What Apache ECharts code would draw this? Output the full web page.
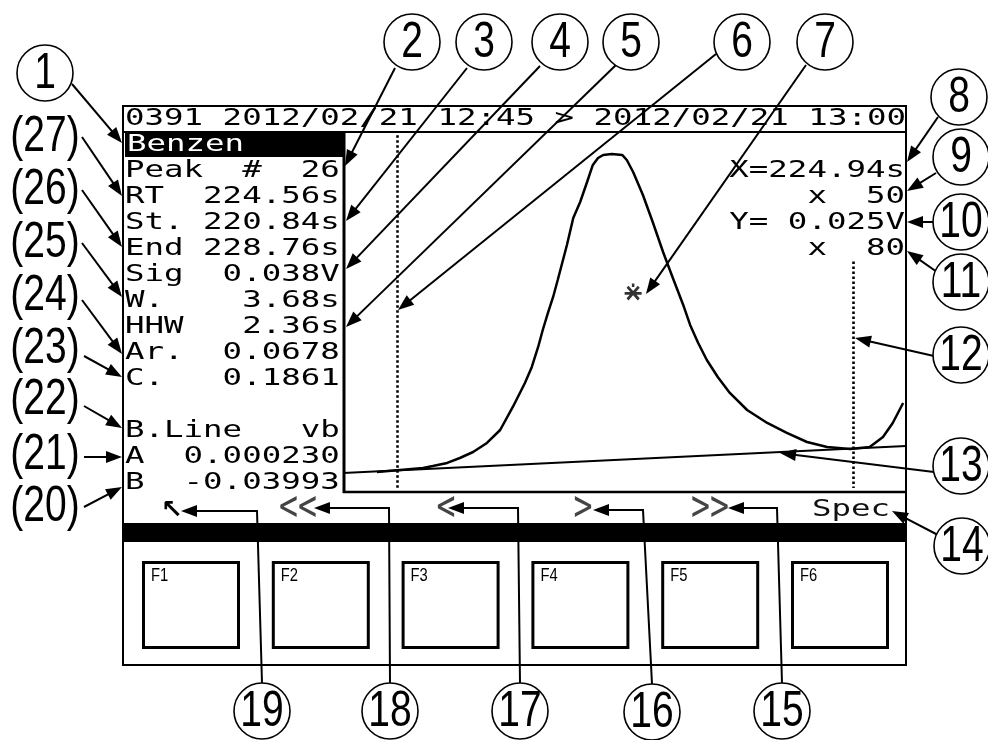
<!DOCTYPE html>
<html>
<head>
<meta charset="utf-8">
<script src="https://cdn.jsdelivr.net/npm/echarts@6/dist/echarts.min.js"></script>
<style>
  html, body { margin: 0; padding: 0; background: #fff; }
  #chart { width: 988px; height: 740px; }
</style>
</head>
<body>
<div id="chart"></div>
<script>
// ---- Chromatogram data: peak trace (time in s, signal in V) ----
const peakTimes = [220.49, 220.89, 221.29, 221.46, 221.71, 221.93, 222.16, 222.40, 222.63, 222.85,
  223.06, 223.18, 223.29, 223.37, 223.46, 223.55, 223.63, 223.79, 223.90, 224.02,
  224.14, 224.24, 224.33, 224.42, 224.57, 224.75, 224.83, 224.94, 225.11, 225.28,
  225.46, 225.63, 225.81, 225.93, 226.07, 226.22, 226.41, 226.62, 226.92, 227.27,
  227.61, 227.96, 228.31, 228.71, 229.05, 229.28, 229.45, 229.63];
const peakVolts = [0.0025, 0.00275, 0.0030, 0.00325, 0.00363, 0.00425, 0.0050, 0.00613, 0.00775, 0.01063,
  0.01363, 0.01563, 0.01813, 0.02025, 0.02238, 0.02438, 0.0265, 0.03088, 0.03425, 0.03625,
  0.03875, 0.04088, 0.04175, 0.04213, 0.04225, 0.04213, 0.0415, 0.0400, 0.03713, 0.03375,
  0.0300, 0.02675, 0.02338, 0.02088, 0.01863, 0.0165, 0.01438, 0.01238, 0.01025, 0.00863,
  0.00738, 0.00625, 0.00563, 0.00538, 0.00563, 0.00688, 0.00863, 0.01113];

// Baseline end points
const baseTimes = [219.9, 229.68];
const baseVolts = [0.00238, 0.00575];

// Peak report values
const compoundName = 'Benzen';
const peakNumber = 26;
const retentionTime = 224.56;
const peakStart = 220.84;
const peakEnd = 228.76;
const peakSignal = 0.038;
const peakWidth = 3.68;
const halfHeightWidth = 2.36;
const peakArea = 0.0678;
const concentration = 0.1861;
const baselineType = 'vb';
const baselineA = 0.000230;
const baselineB = -0.03993;

// Cursor read-out
const cursorX = 224.94;
const cursorY = 0.025;
const zoomX = 50;
const zoomY = 80;

// Header and key labels
const headerText = '0391 2012/02/21 12:45 > 2012/02/21 13:00';
const softKeyLabels = ['\u2196', '<<', '<', '>', '>>', 'Spec'];
const buttonLabels = ['F1', 'F2', 'F3', 'F4', 'F5', 'F6'];
const circledNumbers = [1, 2, 3, 4, 5, 6, 7, 8, 9, 10, 11, 12, 13, 14, 15, 16, 17, 18, 19];
const bracketNumbers = [27, 26, 25, 24, 23, 22, 21, 20];

// Axis extents of the trace window
const timeRange = [219.9, 229.68];
const voltRange = [0, 0.045];

// ---- Layout ----
const PIX_FONT = "23px 'DejaVu Sans Mono', 'Liberation Mono', monospace";
const PIX_SX = 1.41;
const NUM_FONT = "50px 'Liberation Sans', Arial, sans-serif";
const NUM_SX = 0.78;

const plot = { left: 343, top: 132, width: 563, height: 360 };

// circle centres for the numbered callouts (same order as circledNumbers)
const circlePos = [
  [45, 73], [412, 42], [484, 42], [560, 42], [631, 42], [742, 42], [825, 42],
  [959, 97], [961, 157], [961, 222], [961, 282], [961, 355], [961, 466], [962, 546],
  [782, 711], [652, 712], [520, 711], [390, 711], [262, 711]
];
const bracketY = [137, 190, 243, 296, 349, 400, 455, 507];

// straight callout arrows: [fromX, fromY, tipX, tipY]
const straightArrows = [
  [72, 84, 122, 143],
  [82, 137, 122, 196], [82, 190, 122, 247], [82, 243, 122, 297], [82, 300, 122, 354],
  [84, 356, 122, 377], [84, 406, 122, 428], [84, 457, 122, 457], [84, 507, 122, 487],
  [395, 68, 345, 166], [467, 68, 346, 221], [540, 66, 346, 269], [617, 64, 346, 327],
  [716, 54, 398, 310], [806, 65, 646, 294],
  [938, 117, 907, 162], [936, 173, 907, 191], [934, 222, 907, 222], [937, 272, 907, 251],
  [934, 356, 855, 338], [934, 472, 780, 453], [938, 535, 892, 511]
];
// elbow arrows from the bottom circles: [bottomX, bottomY, cornerX, cornerY, tipX]
const elbowArrows = [
  [262, 683, 257, 511, 181], [390, 683, 389, 508, 314], [520, 683, 518, 508, 448],
  [652, 684, 643, 510, 593], [782, 683, 777, 508, 728]
];

function txt(x, y, s, o) {
  o = o || {};
  const align = o.align || 'left';
  return {
    type: 'text', x: x, y: y, scaleX: o.sx || 1, z: o.z || 10, silent: true,
    style: {
      text: s, x: 0, y: 0, font: o.font || PIX_FONT, fill: o.fill || '#000',
      align: align, textAlign: align, verticalAlign: 'middle', textVerticalAlign: 'middle'
    }
  };
}
function line(x1, y1, x2, y2, w, z) {
  return { type: 'line', z: z || 5, silent: true, shape: { x1, y1, x2, y2 },
    style: { stroke: '#000', lineWidth: w || 2 } };
}
function arrowHead(fx, fy, tx, ty) {
  const len = 16, hw = 6;
  const dx = tx - fx, dy = ty - fy, d = Math.hypot(dx, dy);
  const ux = dx / d, uy = dy / d;
  const bx = tx - ux * len, by = ty - uy * len;
  return {
    type: 'polygon', z: 21, silent: true,
    shape: { points: [[tx, ty], [bx - uy * hw, by + ux * hw], [bx + uy * hw, by - ux * hw]] },
    style: { fill: '#000' }
  };
}

const g = [];

// instrument screen frame
g.push({ type: 'rect', z: 5, silent: true, shape: { x: 123, y: 106, width: 783, height: 559 },
  style: { fill: 'none', stroke: '#000', lineWidth: 2 } });
g.push(line(123, 132, 906, 132, 2));
g.push(line(344, 132, 344, 493, 3));
g.push(line(343, 492, 906, 492, 2.5));
g.push({ type: 'rect', z: 5, silent: true, shape: { x: 123, y: 523, width: 783, height: 19 },
  style: { fill: '#000' } });

// header
g.push(txt(125, 119, headerText, { sx: PIX_SX }));

// peak report panel
g.push({ type: 'rect', z: 6, silent: true, shape: { x: 125, y: 133, width: 218, height: 24 },
  style: { fill: '#000' } });
g.push(txt(127, 145, compoundName, { sx: PIX_SX, fill: '#fff', z: 11 }));

function row(label, value) {
  return label + ' '.repeat(Math.max(1, 11 - label.length - value.length)) + value;
}
const reportRows = [
  row('Peak  #', String(peakNumber)),
  row('RT', retentionTime.toFixed(2) + 's'),
  row('St.', peakStart.toFixed(2) + 's'),
  row('End', peakEnd.toFixed(2) + 's'),
  row('Sig', peakSignal.toFixed(3) + 'V'),
  row('W.', peakWidth.toFixed(2) + 's'),
  row('HHW', halfHeightWidth.toFixed(2) + 's'),
  row('Ar.', peakArea.toFixed(4)),
  row('C.', concentration.toFixed(4)),
  '',
  row('B.Line', baselineType),
  row('A', baselineA.toFixed(6)),
  row('B', baselineB.toFixed(5))
];
reportRows.forEach(function (s, i) {
  if (s) g.push(txt(125, 171 + i * 26, s, { sx: PIX_SX }));
});

// cursor read-out
const cursorRows = [
  'X=' + cursorX.toFixed(2) + 's',
  'x  ' + zoomX,
  'Y= ' + cursorY.toFixed(3) + 'V',
  'x  ' + zoomY
];
cursorRows.forEach(function (s, i) {
  g.push(txt(905, 171 + i * 26, s, { sx: PIX_SX, align: 'right' }));
});

// soft key captions
const keyPos = [[172, 'center'], [298, 'center'], [446, 'center'], [583, 'center'], [710, 'center'], [812, 'left']];
softKeyLabels.forEach(function (s, i) {
  const p = keyPos[i];
  if (i === 0) {
    g.push(txt(p[0], 511, s, { font: "bold 26px 'DejaVu Sans', sans-serif", align: 'center', fill: '#000' }));
  } else if (i === 5) {
    g.push(txt(p[0], 510, s, { sx: PIX_SX, fill: '#111' }));
  } else {
    g.push(txt(p[0], 509, s, { font: "42px 'DejaVu Sans Mono', monospace", sx: 0.75, align: 'center', fill: '#444' }));
  }
});

// function keys
buttonLabels.forEach(function (s, i) {
  const bx = 142 + i * 129.8;
  g.push({ type: 'rect', z: 5, silent: true, shape: { x: bx + 1.5, y: 562.5, width: 95, height: 85 },
    style: { fill: 'none', stroke: '#000', lineWidth: 3 } });
  g.push(txt(bx + 9, 576, s, { font: "18px 'Liberation Sans', Arial, sans-serif", sx: 0.82 }));
});

// callout arrows
straightArrows.forEach(function (a) {
  const dx = a[2] - a[0], dy = a[3] - a[1], d = Math.hypot(dx, dy);
  const ex = a[2] - dx / d * 12, ey = a[3] - dy / d * 12;
  g.push(line(a[0], a[1], ex, ey, 2, 20));
  g.push(arrowHead(a[0], a[1], a[2], a[3]));
});
elbowArrows.forEach(function (a) {
  g.push({ type: 'polyline', z: 20, silent: true,
    shape: { points: [[a[0], a[1]], [a[2], a[3]], [a[4] + 12, a[3]]] },
    style: { stroke: '#000', lineWidth: 2, fill: 'none' } });
  g.push(arrowHead(a[2], a[3], a[4], a[3]));
});

// numbered circles
circledNumbers.forEach(function (n, i) {
  const c = circlePos[i];
  g.push({ type: 'circle', z: 22, silent: true, shape: { cx: c[0], cy: c[1], r: 28 },
    style: { fill: '#fff', stroke: '#000', lineWidth: 1.6 } });
  g.push(txt(c[0], c[1] + 1, String(n), { font: NUM_FONT, sx: NUM_SX, align: 'center', z: 23 }));
});
bracketNumbers.forEach(function (n, i) {
  g.push(txt(45, bracketY[i], '(' + n + ')', { font: NUM_FONT, sx: NUM_SX, align: 'center', z: 23 }));
});

// asterisk cursor glyph
const asterisk = 'path://M0,7H16V9.5H0Z M1.8,3.6L3.6,1.8L14.2,12.4L12.4,14.2Z M12.4,1.8L14.2,3.6L3.6,14.2L1.8,12.4Z M6.8,0H9.2V3H6.8Z';

const chart = echarts.init(document.getElementById('chart'), null, { renderer: 'canvas' });
chart.setOption({
  animation: false,
  backgroundColor: '#fff',
  grid: { left: plot.left, top: plot.top, width: plot.width, height: plot.height, show: false },
  xAxis: { type: 'value', min: timeRange[0], max: timeRange[1], show: false },
  yAxis: { type: 'value', min: voltRange[0], max: voltRange[1], show: false },
  series: [
    {
      name: 'signal', type: 'line', symbol: 'none', silent: true, z: 3,
      data: peakTimes.map(function (t, i) { return [t, peakVolts[i]]; }),
      lineStyle: { color: '#000', width: 2.5 }
    },
    {
      name: 'baseline', type: 'line', symbol: 'none', silent: true, z: 3,
      data: baseTimes.map(function (t, i) { return [t, baseVolts[i]]; }),
      lineStyle: { color: '#000', width: 2 },
      markLine: {
        silent: true, symbol: ['none', 'none'], label: { show: false },
        lineStyle: { color: '#000', width: 2.6, type: [2.5, 2.5] },
        data: [
          [{ coord: [peakStart, 0.0446] }, { coord: [peakStart, 0.0005] }],
          [{ coord: [peakEnd, 0.0288] }, { coord: [peakEnd, 0.0005] }]
        ]
      }
    },
    {
      name: 'cursor', type: 'scatter', silent: true, z: 4,
      data: [[cursorX, cursorY]], symbol: asterisk, symbolSize: 17,
      itemStyle: { color: '#000' }
    }
  ],
  graphic: { elements: g }
});
</script>
</body>
</html>
